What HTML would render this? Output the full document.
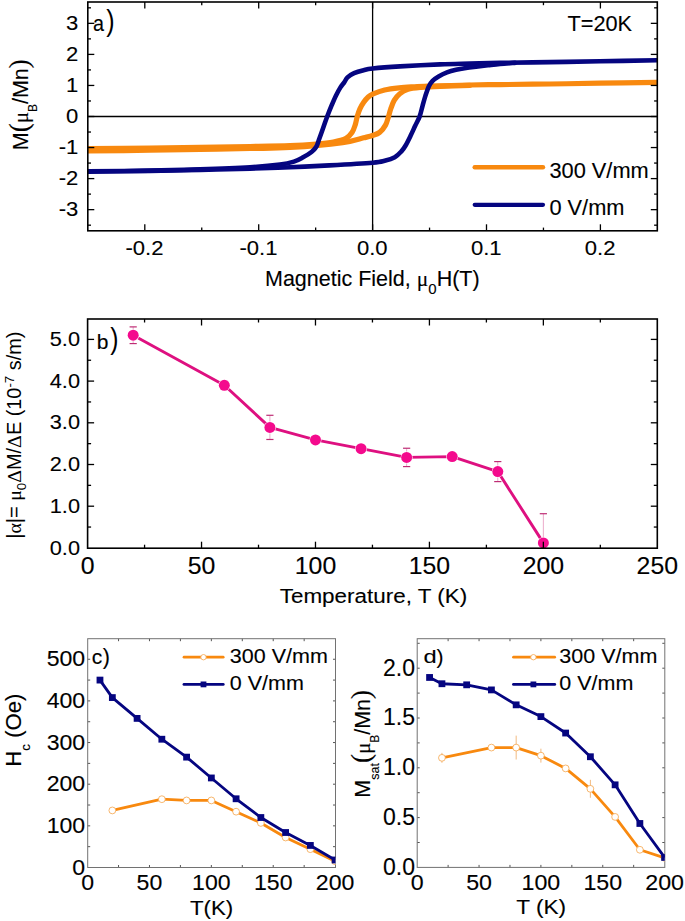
<!DOCTYPE html>
<html><head><meta charset="utf-8"><style>
html,body{margin:0;padding:0;background:#fff;}
svg{display:block;}
text{font-family:"Liberation Sans", sans-serif; stroke:#000; stroke-width:0.12px;}
</style></head><body>
<svg width="685" height="921" viewBox="0 0 685 921">
<defs><clipPath id="clipA"><rect x="87.8" y="2.0" width="569.5" height="228.8"/></clipPath>
<clipPath id="clipC"><rect x="87.7" y="638.7" width="247.8" height="228.8"/></clipPath>
<clipPath id="clipD"><rect x="417.2" y="638.7" width="247.6" height="228.7"/></clipPath></defs>
<rect width="685" height="921" fill="#fff"/>
<line x1="87.80" y1="116.50" x2="657.30" y2="116.50" stroke="#000" stroke-width="1.30" />
<line x1="372.60" y1="2.00" x2="372.60" y2="230.80" stroke="#000" stroke-width="1.30" />
<g clip-path="url(#clipA)" fill="none" stroke-linejoin="round" stroke-linecap="round">
<path d="M657.00,82.40 C647.50,82.53 617.83,82.93 600.00,83.20 C582.17,83.47 566.67,83.77 550.00,84.00 C533.33,84.23 513.33,84.43 500.00,84.60 C486.67,84.77 481.93,84.73 470.00,85.00 C458.07,85.27 437.77,85.90 428.40,86.20 C419.03,86.50 418.67,86.53 413.80,86.80 C408.93,87.07 404.07,87.27 399.20,87.80 C394.33,88.33 389.03,88.93 384.60,90.00 C380.17,91.07 375.33,93.03 372.60,94.20 C369.87,95.37 369.68,95.65 368.20,97.00 C366.72,98.35 365.08,100.32 363.70,102.30 C362.32,104.28 360.97,106.57 359.90,108.90 C358.83,111.23 358.07,113.68 357.30,116.30 C356.53,118.92 356.18,121.90 355.30,124.60 C354.42,127.30 353.55,130.20 352.00,132.50 C350.45,134.80 349.10,136.82 346.00,138.40 C342.90,139.98 338.35,141.07 333.40,142.00 C328.45,142.93 323.53,143.40 316.30,144.00 C309.07,144.60 301.05,145.18 290.00,145.60 C278.95,146.02 265.00,146.22 250.00,146.50 C235.00,146.78 216.67,147.05 200.00,147.30 C183.33,147.55 168.67,147.78 150.00,148.00 C131.33,148.22 98.33,148.50 88.00,148.60" stroke="#F8890F" stroke-width="5.2"/>
<path d="M88.00,151.00 C98.33,150.87 131.33,150.45 150.00,150.20 C168.67,149.95 183.33,149.78 200.00,149.50 C216.67,149.22 235.00,148.83 250.00,148.50 C265.00,148.17 274.57,148.48 290.00,147.50 C305.43,146.52 330.33,144.22 342.60,142.60 C354.87,140.98 358.60,138.98 363.60,137.80 C368.60,136.62 369.93,136.40 372.60,135.50 C375.27,134.60 377.45,134.13 379.60,132.40 C381.75,130.67 384.02,127.73 385.50,125.10 C386.98,122.47 387.63,119.28 388.50,116.60 C389.37,113.92 389.75,111.72 390.70,109.00 C391.65,106.28 392.68,102.85 394.20,100.30 C395.72,97.75 397.50,95.53 399.80,93.70 C402.10,91.87 404.45,90.35 408.00,89.30 C411.55,88.25 415.77,87.90 421.10,87.40 C426.43,86.90 431.85,86.63 440.00,86.30 C448.15,85.97 465.00,85.55 470.00,85.40" stroke="#F8890F" stroke-width="5.2"/>
<path d="M657.00,60.30 C647.50,60.47 617.83,61.00 600.00,61.30 C582.17,61.60 566.67,61.83 550.00,62.10 C533.33,62.37 513.33,62.65 500.00,62.90 C486.67,63.15 480.00,63.35 470.00,63.60 C460.00,63.85 451.67,63.93 440.00,64.40 C428.33,64.87 411.23,65.72 400.00,66.40 C388.77,67.08 378.67,67.87 372.60,68.50 C366.53,69.13 366.68,69.42 363.60,70.20 C360.52,70.98 356.78,72.00 354.10,73.20 C351.42,74.40 349.15,75.87 347.50,77.40 C345.85,78.93 345.40,80.70 344.20,82.40 C343.00,84.10 341.68,85.38 340.30,87.60 C338.92,89.82 337.40,92.60 335.90,95.70 C334.40,98.80 332.73,102.77 331.30,106.20 C329.87,109.63 328.62,112.78 327.30,116.30 C325.98,119.82 324.75,123.50 323.40,127.30 C322.05,131.10 320.38,135.85 319.20,139.10 C318.02,142.35 317.58,144.65 316.30,146.80 C315.02,148.95 313.70,150.25 311.50,152.00 C309.30,153.75 306.03,155.70 303.10,157.30 C300.17,158.90 297.75,160.38 293.90,161.60 C290.05,162.82 287.32,163.65 280.00,164.60 C272.68,165.55 263.33,166.50 250.00,167.30 C236.67,168.10 216.67,168.85 200.00,169.40 C183.33,169.95 168.67,170.28 150.00,170.60 C131.33,170.92 98.33,171.18 88.00,171.30" stroke="#050580" stroke-width="4.6"/>
<path d="M88.00,171.60 C98.33,171.48 131.33,171.18 150.00,170.90 C168.67,170.62 183.33,170.28 200.00,169.90 C216.67,169.52 235.00,169.03 250.00,168.60 C265.00,168.17 276.77,167.83 290.00,167.30 C303.23,166.77 315.63,166.17 329.40,165.40 C343.17,164.63 363.40,163.47 372.60,162.70 C381.80,161.93 380.90,161.72 384.60,160.80 C388.30,159.88 392.00,158.77 394.80,157.20 C397.60,155.63 399.60,153.35 401.40,151.40 C403.20,149.45 404.03,148.18 405.60,145.50 C407.17,142.82 409.20,138.58 410.80,135.30 C412.40,132.02 413.73,128.92 415.20,125.80 C416.67,122.68 418.38,119.88 419.60,116.60 C420.82,113.32 421.53,109.55 422.50,106.10 C423.47,102.65 424.33,99.22 425.40,95.90 C426.47,92.58 427.70,88.72 428.90,86.20 C430.10,83.68 430.98,82.43 432.60,80.80 C434.22,79.17 436.20,77.80 438.60,76.40 C441.00,75.00 444.10,73.50 447.00,72.40 C449.90,71.30 452.83,70.53 456.00,69.80 C459.17,69.07 462.67,68.52 466.00,68.00 C469.33,67.48 472.33,67.15 476.00,66.70 C479.67,66.25 484.00,65.75 488.00,65.30 C492.00,64.85 495.50,64.40 500.00,64.00 C504.50,63.60 512.50,63.08 515.00,62.90" stroke="#050580" stroke-width="4.6"/>
</g>
<line x1="87.80" y1="225.18" x2="91.00" y2="225.18" stroke="#000" stroke-width="1.30" />
<line x1="657.30" y1="225.18" x2="654.10" y2="225.18" stroke="#000" stroke-width="1.30" />
<line x1="87.80" y1="209.65" x2="94.30" y2="209.65" stroke="#000" stroke-width="1.30" />
<line x1="657.30" y1="209.65" x2="650.80" y2="209.65" stroke="#000" stroke-width="1.30" />
<line x1="87.80" y1="194.12" x2="91.00" y2="194.12" stroke="#000" stroke-width="1.30" />
<line x1="657.30" y1="194.12" x2="654.10" y2="194.12" stroke="#000" stroke-width="1.30" />
<line x1="87.80" y1="178.60" x2="94.30" y2="178.60" stroke="#000" stroke-width="1.30" />
<line x1="657.30" y1="178.60" x2="650.80" y2="178.60" stroke="#000" stroke-width="1.30" />
<line x1="87.80" y1="163.07" x2="91.00" y2="163.07" stroke="#000" stroke-width="1.30" />
<line x1="657.30" y1="163.07" x2="654.10" y2="163.07" stroke="#000" stroke-width="1.30" />
<line x1="87.80" y1="147.55" x2="94.30" y2="147.55" stroke="#000" stroke-width="1.30" />
<line x1="657.30" y1="147.55" x2="650.80" y2="147.55" stroke="#000" stroke-width="1.30" />
<line x1="87.80" y1="132.03" x2="91.00" y2="132.03" stroke="#000" stroke-width="1.30" />
<line x1="657.30" y1="132.03" x2="654.10" y2="132.03" stroke="#000" stroke-width="1.30" />
<line x1="87.80" y1="116.50" x2="94.30" y2="116.50" stroke="#000" stroke-width="1.30" />
<line x1="657.30" y1="116.50" x2="650.80" y2="116.50" stroke="#000" stroke-width="1.30" />
<line x1="87.80" y1="100.97" x2="91.00" y2="100.97" stroke="#000" stroke-width="1.30" />
<line x1="657.30" y1="100.97" x2="654.10" y2="100.97" stroke="#000" stroke-width="1.30" />
<line x1="87.80" y1="85.45" x2="94.30" y2="85.45" stroke="#000" stroke-width="1.30" />
<line x1="657.30" y1="85.45" x2="650.80" y2="85.45" stroke="#000" stroke-width="1.30" />
<line x1="87.80" y1="69.92" x2="91.00" y2="69.92" stroke="#000" stroke-width="1.30" />
<line x1="657.30" y1="69.92" x2="654.10" y2="69.92" stroke="#000" stroke-width="1.30" />
<line x1="87.80" y1="54.40" x2="94.30" y2="54.40" stroke="#000" stroke-width="1.30" />
<line x1="657.30" y1="54.40" x2="650.80" y2="54.40" stroke="#000" stroke-width="1.30" />
<line x1="87.80" y1="38.88" x2="91.00" y2="38.88" stroke="#000" stroke-width="1.30" />
<line x1="657.30" y1="38.88" x2="654.10" y2="38.88" stroke="#000" stroke-width="1.30" />
<line x1="87.80" y1="23.35" x2="94.30" y2="23.35" stroke="#000" stroke-width="1.30" />
<line x1="657.30" y1="23.35" x2="650.80" y2="23.35" stroke="#000" stroke-width="1.30" />
<line x1="87.80" y1="7.83" x2="91.00" y2="7.83" stroke="#000" stroke-width="1.30" />
<line x1="657.30" y1="7.83" x2="654.10" y2="7.83" stroke="#000" stroke-width="1.30" />
<line x1="144.80" y1="2.00" x2="144.80" y2="8.50" stroke="#000" stroke-width="1.30" />
<line x1="144.80" y1="230.80" x2="144.80" y2="224.30" stroke="#000" stroke-width="1.30" />
<line x1="201.75" y1="2.00" x2="201.75" y2="5.20" stroke="#000" stroke-width="1.30" />
<line x1="201.75" y1="230.80" x2="201.75" y2="227.60" stroke="#000" stroke-width="1.30" />
<line x1="258.70" y1="2.00" x2="258.70" y2="8.50" stroke="#000" stroke-width="1.30" />
<line x1="258.70" y1="230.80" x2="258.70" y2="224.30" stroke="#000" stroke-width="1.30" />
<line x1="315.65" y1="2.00" x2="315.65" y2="5.20" stroke="#000" stroke-width="1.30" />
<line x1="315.65" y1="230.80" x2="315.65" y2="227.60" stroke="#000" stroke-width="1.30" />
<line x1="372.60" y1="2.00" x2="372.60" y2="8.50" stroke="#000" stroke-width="1.30" />
<line x1="372.60" y1="230.80" x2="372.60" y2="224.30" stroke="#000" stroke-width="1.30" />
<line x1="429.55" y1="2.00" x2="429.55" y2="5.20" stroke="#000" stroke-width="1.30" />
<line x1="429.55" y1="230.80" x2="429.55" y2="227.60" stroke="#000" stroke-width="1.30" />
<line x1="486.50" y1="2.00" x2="486.50" y2="8.50" stroke="#000" stroke-width="1.30" />
<line x1="486.50" y1="230.80" x2="486.50" y2="224.30" stroke="#000" stroke-width="1.30" />
<line x1="543.45" y1="2.00" x2="543.45" y2="5.20" stroke="#000" stroke-width="1.30" />
<line x1="543.45" y1="230.80" x2="543.45" y2="227.60" stroke="#000" stroke-width="1.30" />
<line x1="600.40" y1="2.00" x2="600.40" y2="8.50" stroke="#000" stroke-width="1.30" />
<line x1="600.40" y1="230.80" x2="600.40" y2="224.30" stroke="#000" stroke-width="1.30" />
<rect x="87.80" y="2.00" width="569.50" height="228.80" fill="none" stroke="#000" stroke-width="1.60"/>
<line x1="474.70" y1="167.30" x2="543.00" y2="167.30" stroke="#F8890F" stroke-width="4.40" stroke-linecap="round"/>
<line x1="474.70" y1="204.80" x2="543.00" y2="204.80" stroke="#050580" stroke-width="4.20" stroke-linecap="round"/>
<polyline points="133.18,335.23 224.33,385.27 269.90,427.39 315.48,439.90 361.06,448.65 406.63,457.41 452.21,456.58 497.78,471.59 543.36,542.90" fill="none" stroke="#DE1080" stroke-width="2.9" stroke-linejoin="round"/>
<line x1="133.18" y1="326.89" x2="133.18" y2="343.57" stroke="#E9A0C4" stroke-width="0.90" />
<line x1="129.58" y1="326.89" x2="136.78" y2="326.89" stroke="#BE2C74" stroke-width="1.20" />
<line x1="129.58" y1="343.57" x2="136.78" y2="343.57" stroke="#BE2C74" stroke-width="1.20" />
<line x1="224.33" y1="381.10" x2="224.33" y2="389.44" stroke="#E9A0C4" stroke-width="0.90" />
<line x1="220.73" y1="381.10" x2="227.93" y2="381.10" stroke="#BE2C74" stroke-width="1.20" />
<line x1="220.73" y1="389.44" x2="227.93" y2="389.44" stroke="#BE2C74" stroke-width="1.20" />
<line x1="269.90" y1="415.29" x2="269.90" y2="439.48" stroke="#E9A0C4" stroke-width="0.90" />
<line x1="266.30" y1="415.29" x2="273.50" y2="415.29" stroke="#BE2C74" stroke-width="1.20" />
<line x1="266.30" y1="439.48" x2="273.50" y2="439.48" stroke="#BE2C74" stroke-width="1.20" />
<line x1="315.48" y1="436.56" x2="315.48" y2="443.23" stroke="#E9A0C4" stroke-width="0.90" />
<line x1="311.88" y1="436.56" x2="319.08" y2="436.56" stroke="#BE2C74" stroke-width="1.20" />
<line x1="311.88" y1="443.23" x2="319.08" y2="443.23" stroke="#BE2C74" stroke-width="1.20" />
<line x1="406.63" y1="448.24" x2="406.63" y2="466.58" stroke="#E9A0C4" stroke-width="0.90" />
<line x1="403.03" y1="448.24" x2="410.23" y2="448.24" stroke="#BE2C74" stroke-width="1.20" />
<line x1="403.03" y1="466.58" x2="410.23" y2="466.58" stroke="#BE2C74" stroke-width="1.20" />
<line x1="497.78" y1="461.58" x2="497.78" y2="481.60" stroke="#E9A0C4" stroke-width="0.90" />
<line x1="494.18" y1="461.58" x2="501.38" y2="461.58" stroke="#BE2C74" stroke-width="1.20" />
<line x1="494.18" y1="481.60" x2="501.38" y2="481.60" stroke="#BE2C74" stroke-width="1.20" />
<line x1="543.36" y1="513.71" x2="543.36" y2="547.90" stroke="#E9A0C4" stroke-width="0.90" />
<line x1="539.76" y1="513.71" x2="546.96" y2="513.71" stroke="#BE2C74" stroke-width="1.20" />
<circle cx="133.18" cy="335.23" r="6.0" fill="#fff"/>
<circle cx="133.18" cy="335.23" r="5.5" fill="#F40A8D"/>
<circle cx="224.33" cy="385.27" r="6.0" fill="#fff"/>
<circle cx="224.33" cy="385.27" r="5.5" fill="#F40A8D"/>
<circle cx="269.90" cy="427.39" r="6.0" fill="#fff"/>
<circle cx="269.90" cy="427.39" r="5.5" fill="#F40A8D"/>
<circle cx="315.48" cy="439.90" r="6.0" fill="#fff"/>
<circle cx="315.48" cy="439.90" r="5.5" fill="#F40A8D"/>
<circle cx="361.06" cy="448.65" r="6.0" fill="#fff"/>
<circle cx="361.06" cy="448.65" r="5.5" fill="#F40A8D"/>
<circle cx="406.63" cy="457.41" r="6.0" fill="#fff"/>
<circle cx="406.63" cy="457.41" r="5.5" fill="#F40A8D"/>
<circle cx="452.21" cy="456.58" r="6.0" fill="#fff"/>
<circle cx="452.21" cy="456.58" r="5.5" fill="#F40A8D"/>
<circle cx="497.78" cy="471.59" r="6.0" fill="#fff"/>
<circle cx="497.78" cy="471.59" r="5.5" fill="#F40A8D"/>
<circle cx="543.36" cy="542.90" r="6.0" fill="#fff"/>
<circle cx="543.36" cy="542.90" r="5.5" fill="#F40A8D"/>
<line x1="87.60" y1="527.05" x2="91.10" y2="527.05" stroke="#000" stroke-width="1.30" />
<line x1="657.30" y1="527.05" x2="653.80" y2="527.05" stroke="#000" stroke-width="1.30" />
<line x1="87.60" y1="506.20" x2="94.10" y2="506.20" stroke="#000" stroke-width="1.30" />
<line x1="657.30" y1="506.20" x2="650.80" y2="506.20" stroke="#000" stroke-width="1.30" />
<line x1="87.60" y1="485.35" x2="91.10" y2="485.35" stroke="#000" stroke-width="1.30" />
<line x1="657.30" y1="485.35" x2="653.80" y2="485.35" stroke="#000" stroke-width="1.30" />
<line x1="87.60" y1="464.50" x2="94.10" y2="464.50" stroke="#000" stroke-width="1.30" />
<line x1="657.30" y1="464.50" x2="650.80" y2="464.50" stroke="#000" stroke-width="1.30" />
<line x1="87.60" y1="443.65" x2="91.10" y2="443.65" stroke="#000" stroke-width="1.30" />
<line x1="657.30" y1="443.65" x2="653.80" y2="443.65" stroke="#000" stroke-width="1.30" />
<line x1="87.60" y1="422.80" x2="94.10" y2="422.80" stroke="#000" stroke-width="1.30" />
<line x1="657.30" y1="422.80" x2="650.80" y2="422.80" stroke="#000" stroke-width="1.30" />
<line x1="87.60" y1="401.95" x2="91.10" y2="401.95" stroke="#000" stroke-width="1.30" />
<line x1="657.30" y1="401.95" x2="653.80" y2="401.95" stroke="#000" stroke-width="1.30" />
<line x1="87.60" y1="381.10" x2="94.10" y2="381.10" stroke="#000" stroke-width="1.30" />
<line x1="657.30" y1="381.10" x2="650.80" y2="381.10" stroke="#000" stroke-width="1.30" />
<line x1="87.60" y1="360.25" x2="91.10" y2="360.25" stroke="#000" stroke-width="1.30" />
<line x1="657.30" y1="360.25" x2="653.80" y2="360.25" stroke="#000" stroke-width="1.30" />
<line x1="87.60" y1="339.40" x2="94.10" y2="339.40" stroke="#000" stroke-width="1.30" />
<line x1="657.30" y1="339.40" x2="650.80" y2="339.40" stroke="#000" stroke-width="1.30" />
<line x1="144.57" y1="319.00" x2="144.57" y2="322.50" stroke="#000" stroke-width="1.30" />
<line x1="144.57" y1="548.20" x2="144.57" y2="544.70" stroke="#000" stroke-width="1.30" />
<line x1="201.54" y1="319.00" x2="201.54" y2="325.50" stroke="#000" stroke-width="1.30" />
<line x1="201.54" y1="548.20" x2="201.54" y2="541.70" stroke="#000" stroke-width="1.30" />
<line x1="258.51" y1="319.00" x2="258.51" y2="322.50" stroke="#000" stroke-width="1.30" />
<line x1="258.51" y1="548.20" x2="258.51" y2="544.70" stroke="#000" stroke-width="1.30" />
<line x1="315.48" y1="319.00" x2="315.48" y2="325.50" stroke="#000" stroke-width="1.30" />
<line x1="315.48" y1="548.20" x2="315.48" y2="541.70" stroke="#000" stroke-width="1.30" />
<line x1="372.45" y1="319.00" x2="372.45" y2="322.50" stroke="#000" stroke-width="1.30" />
<line x1="372.45" y1="548.20" x2="372.45" y2="544.70" stroke="#000" stroke-width="1.30" />
<line x1="429.42" y1="319.00" x2="429.42" y2="325.50" stroke="#000" stroke-width="1.30" />
<line x1="429.42" y1="548.20" x2="429.42" y2="541.70" stroke="#000" stroke-width="1.30" />
<line x1="486.39" y1="319.00" x2="486.39" y2="322.50" stroke="#000" stroke-width="1.30" />
<line x1="486.39" y1="548.20" x2="486.39" y2="544.70" stroke="#000" stroke-width="1.30" />
<line x1="543.36" y1="319.00" x2="543.36" y2="325.50" stroke="#000" stroke-width="1.30" />
<line x1="543.36" y1="548.20" x2="543.36" y2="541.70" stroke="#000" stroke-width="1.30" />
<line x1="600.33" y1="319.00" x2="600.33" y2="322.50" stroke="#000" stroke-width="1.30" />
<line x1="600.33" y1="548.20" x2="600.33" y2="544.70" stroke="#000" stroke-width="1.30" />
<rect x="87.60" y="319.00" width="569.70" height="229.20" fill="none" stroke="#000" stroke-width="1.60"/>
<line x1="87.70" y1="846.67" x2="90.20" y2="846.67" stroke="#555" stroke-width="1.00" />
<line x1="335.50" y1="846.67" x2="333.00" y2="846.67" stroke="#555" stroke-width="1.00" />
<line x1="87.70" y1="825.85" x2="90.20" y2="825.85" stroke="#555" stroke-width="1.00" />
<line x1="335.50" y1="825.85" x2="333.00" y2="825.85" stroke="#555" stroke-width="1.00" />
<line x1="87.70" y1="805.02" x2="90.20" y2="805.02" stroke="#555" stroke-width="1.00" />
<line x1="335.50" y1="805.02" x2="333.00" y2="805.02" stroke="#555" stroke-width="1.00" />
<line x1="87.70" y1="784.20" x2="90.20" y2="784.20" stroke="#555" stroke-width="1.00" />
<line x1="335.50" y1="784.20" x2="333.00" y2="784.20" stroke="#555" stroke-width="1.00" />
<line x1="87.70" y1="763.38" x2="90.20" y2="763.38" stroke="#555" stroke-width="1.00" />
<line x1="335.50" y1="763.38" x2="333.00" y2="763.38" stroke="#555" stroke-width="1.00" />
<line x1="87.70" y1="742.55" x2="90.20" y2="742.55" stroke="#555" stroke-width="1.00" />
<line x1="335.50" y1="742.55" x2="333.00" y2="742.55" stroke="#555" stroke-width="1.00" />
<line x1="87.70" y1="721.73" x2="90.20" y2="721.73" stroke="#555" stroke-width="1.00" />
<line x1="335.50" y1="721.73" x2="333.00" y2="721.73" stroke="#555" stroke-width="1.00" />
<line x1="87.70" y1="700.90" x2="90.20" y2="700.90" stroke="#555" stroke-width="1.00" />
<line x1="335.50" y1="700.90" x2="333.00" y2="700.90" stroke="#555" stroke-width="1.00" />
<line x1="87.70" y1="680.08" x2="90.20" y2="680.08" stroke="#555" stroke-width="1.00" />
<line x1="335.50" y1="680.08" x2="333.00" y2="680.08" stroke="#555" stroke-width="1.00" />
<line x1="87.70" y1="659.25" x2="90.20" y2="659.25" stroke="#555" stroke-width="1.00" />
<line x1="335.50" y1="659.25" x2="333.00" y2="659.25" stroke="#555" stroke-width="1.00" />
<line x1="118.54" y1="638.70" x2="118.54" y2="641.20" stroke="#555" stroke-width="1.00" />
<line x1="118.54" y1="867.50" x2="118.54" y2="865.00" stroke="#555" stroke-width="1.00" />
<line x1="149.47" y1="638.70" x2="149.47" y2="641.20" stroke="#555" stroke-width="1.00" />
<line x1="149.47" y1="867.50" x2="149.47" y2="865.00" stroke="#555" stroke-width="1.00" />
<line x1="180.41" y1="638.70" x2="180.41" y2="641.20" stroke="#555" stroke-width="1.00" />
<line x1="180.41" y1="867.50" x2="180.41" y2="865.00" stroke="#555" stroke-width="1.00" />
<line x1="211.35" y1="638.70" x2="211.35" y2="641.20" stroke="#555" stroke-width="1.00" />
<line x1="211.35" y1="867.50" x2="211.35" y2="865.00" stroke="#555" stroke-width="1.00" />
<line x1="242.29" y1="638.70" x2="242.29" y2="641.20" stroke="#555" stroke-width="1.00" />
<line x1="242.29" y1="867.50" x2="242.29" y2="865.00" stroke="#555" stroke-width="1.00" />
<line x1="273.23" y1="638.70" x2="273.23" y2="641.20" stroke="#555" stroke-width="1.00" />
<line x1="273.23" y1="867.50" x2="273.23" y2="865.00" stroke="#555" stroke-width="1.00" />
<line x1="304.16" y1="638.70" x2="304.16" y2="641.20" stroke="#555" stroke-width="1.00" />
<line x1="304.16" y1="867.50" x2="304.16" y2="865.00" stroke="#555" stroke-width="1.00" />
<rect x="87.70" y="638.70" width="247.80" height="228.80" fill="none" stroke="#727272" stroke-width="1.00"/>
<g clip-path="url(#clipC)">
<polyline points="112.35,810.44 161.85,799.19 186.60,800.44 211.35,800.44 236.10,811.69 260.85,822.93 285.60,837.51 310.35,849.17 335.10,861.25" fill="none" stroke="#F8890F" stroke-width="2.80" stroke-linejoin="round"/>
<circle cx="112.35" cy="810.44" r="3.4" fill="#fff" stroke="#F5A54A" stroke-width="0.8"/>
<circle cx="161.85" cy="799.19" r="3.4" fill="#fff" stroke="#F5A54A" stroke-width="0.8"/>
<circle cx="186.60" cy="800.44" r="3.4" fill="#fff" stroke="#F5A54A" stroke-width="0.8"/>
<circle cx="211.35" cy="800.44" r="3.4" fill="#fff" stroke="#F5A54A" stroke-width="0.8"/>
<circle cx="236.10" cy="811.69" r="3.4" fill="#fff" stroke="#F5A54A" stroke-width="0.8"/>
<circle cx="260.85" cy="822.93" r="3.4" fill="#fff" stroke="#F5A54A" stroke-width="0.8"/>
<circle cx="285.60" cy="837.51" r="3.4" fill="#fff" stroke="#F5A54A" stroke-width="0.8"/>
<circle cx="310.35" cy="849.17" r="3.4" fill="#fff" stroke="#F5A54A" stroke-width="0.8"/>
<circle cx="335.10" cy="861.25" r="3.4" fill="#fff" stroke="#F5A54A" stroke-width="0.8"/>
<polyline points="99.97,680.08 112.35,697.57 137.10,718.39 161.85,739.22 186.60,757.13 211.35,777.95 236.10,798.78 260.85,817.52 285.60,832.51 310.35,845.43 335.10,860.00" fill="none" stroke="#050580" stroke-width="2.80" stroke-linejoin="round"/>
<rect x="96.57" y="676.68" width="6.8" height="6.8" fill="#050580"/>
<rect x="108.95" y="694.17" width="6.8" height="6.8" fill="#050580"/>
<rect x="133.70" y="714.99" width="6.8" height="6.8" fill="#050580"/>
<rect x="158.45" y="735.82" width="6.8" height="6.8" fill="#050580"/>
<rect x="183.20" y="753.73" width="6.8" height="6.8" fill="#050580"/>
<rect x="207.95" y="774.55" width="6.8" height="6.8" fill="#050580"/>
<rect x="232.70" y="795.38" width="6.8" height="6.8" fill="#050580"/>
<rect x="257.45" y="814.12" width="6.8" height="6.8" fill="#050580"/>
<rect x="282.20" y="829.11" width="6.8" height="6.8" fill="#050580"/>
<rect x="306.95" y="842.03" width="6.8" height="6.8" fill="#050580"/>
<rect x="331.70" y="856.60" width="6.8" height="6.8" fill="#050580"/>
</g>
<line x1="184.00" y1="657.20" x2="223.20" y2="657.20" stroke="#F8890F" stroke-width="2.70" stroke-linecap="round"/>
<circle cx="203.50" cy="657.20" r="2.7" fill="#fff" stroke="#F5A54A" stroke-width="0.8"/>
<line x1="184.00" y1="684.40" x2="223.20" y2="684.40" stroke="#050580" stroke-width="2.90" stroke-linecap="round"/>
<rect x="200.60" y="681.50" width="5.8" height="5.8" fill="#050580"/>
<line x1="417.20" y1="842.50" x2="419.70" y2="842.50" stroke="#555" stroke-width="1.00" />
<line x1="664.80" y1="842.50" x2="662.30" y2="842.50" stroke="#555" stroke-width="1.00" />
<line x1="417.20" y1="817.60" x2="419.70" y2="817.60" stroke="#555" stroke-width="1.00" />
<line x1="664.80" y1="817.60" x2="662.30" y2="817.60" stroke="#555" stroke-width="1.00" />
<line x1="417.20" y1="792.70" x2="419.70" y2="792.70" stroke="#555" stroke-width="1.00" />
<line x1="664.80" y1="792.70" x2="662.30" y2="792.70" stroke="#555" stroke-width="1.00" />
<line x1="417.20" y1="767.80" x2="419.70" y2="767.80" stroke="#555" stroke-width="1.00" />
<line x1="664.80" y1="767.80" x2="662.30" y2="767.80" stroke="#555" stroke-width="1.00" />
<line x1="417.20" y1="742.90" x2="419.70" y2="742.90" stroke="#555" stroke-width="1.00" />
<line x1="664.80" y1="742.90" x2="662.30" y2="742.90" stroke="#555" stroke-width="1.00" />
<line x1="417.20" y1="718.00" x2="419.70" y2="718.00" stroke="#555" stroke-width="1.00" />
<line x1="664.80" y1="718.00" x2="662.30" y2="718.00" stroke="#555" stroke-width="1.00" />
<line x1="417.20" y1="693.10" x2="419.70" y2="693.10" stroke="#555" stroke-width="1.00" />
<line x1="664.80" y1="693.10" x2="662.30" y2="693.10" stroke="#555" stroke-width="1.00" />
<line x1="417.20" y1="668.20" x2="419.70" y2="668.20" stroke="#555" stroke-width="1.00" />
<line x1="664.80" y1="668.20" x2="662.30" y2="668.20" stroke="#555" stroke-width="1.00" />
<line x1="417.20" y1="643.30" x2="419.70" y2="643.30" stroke="#555" stroke-width="1.00" />
<line x1="664.80" y1="643.30" x2="662.30" y2="643.30" stroke="#555" stroke-width="1.00" />
<line x1="448.12" y1="638.70" x2="448.12" y2="641.20" stroke="#555" stroke-width="1.00" />
<line x1="448.12" y1="867.40" x2="448.12" y2="864.90" stroke="#555" stroke-width="1.00" />
<line x1="479.05" y1="638.70" x2="479.05" y2="641.20" stroke="#555" stroke-width="1.00" />
<line x1="479.05" y1="867.40" x2="479.05" y2="864.90" stroke="#555" stroke-width="1.00" />
<line x1="509.98" y1="638.70" x2="509.98" y2="641.20" stroke="#555" stroke-width="1.00" />
<line x1="509.98" y1="867.40" x2="509.98" y2="864.90" stroke="#555" stroke-width="1.00" />
<line x1="540.90" y1="638.70" x2="540.90" y2="641.20" stroke="#555" stroke-width="1.00" />
<line x1="540.90" y1="867.40" x2="540.90" y2="864.90" stroke="#555" stroke-width="1.00" />
<line x1="571.83" y1="638.70" x2="571.83" y2="641.20" stroke="#555" stroke-width="1.00" />
<line x1="571.83" y1="867.40" x2="571.83" y2="864.90" stroke="#555" stroke-width="1.00" />
<line x1="602.75" y1="638.70" x2="602.75" y2="641.20" stroke="#555" stroke-width="1.00" />
<line x1="602.75" y1="867.40" x2="602.75" y2="864.90" stroke="#555" stroke-width="1.00" />
<line x1="633.67" y1="638.70" x2="633.67" y2="641.20" stroke="#555" stroke-width="1.00" />
<line x1="633.67" y1="867.40" x2="633.67" y2="864.90" stroke="#555" stroke-width="1.00" />
<rect x="417.20" y="638.70" width="247.60" height="228.70" fill="none" stroke="#727272" stroke-width="1.00"/>
<g clip-path="url(#clipD)">
<line x1="441.94" y1="752.86" x2="441.94" y2="762.82" stroke="#EFA860" stroke-width="0.80" />
<line x1="516.16" y1="735.63" x2="516.16" y2="759.53" stroke="#EFA860" stroke-width="0.80" />
<line x1="540.90" y1="748.68" x2="540.90" y2="762.62" stroke="#EFA860" stroke-width="0.80" />
<line x1="590.38" y1="779.85" x2="590.38" y2="797.78" stroke="#EFA860" stroke-width="0.80" />
<polyline points="441.94,757.84 491.42,747.58 516.16,747.58 540.90,755.65 565.64,768.40 590.38,788.82 615.12,816.90 639.86,849.77 664.60,857.84" fill="none" stroke="#F8890F" stroke-width="2.80" stroke-linejoin="round"/>
<circle cx="441.94" cy="757.84" r="3.4" fill="#fff" stroke="#F5A54A" stroke-width="0.8"/>
<circle cx="491.42" cy="747.58" r="3.4" fill="#fff" stroke="#F5A54A" stroke-width="0.8"/>
<circle cx="516.16" cy="747.58" r="3.4" fill="#fff" stroke="#F5A54A" stroke-width="0.8"/>
<circle cx="540.90" cy="755.65" r="3.4" fill="#fff" stroke="#F5A54A" stroke-width="0.8"/>
<circle cx="565.64" cy="768.40" r="3.4" fill="#fff" stroke="#F5A54A" stroke-width="0.8"/>
<circle cx="590.38" cy="788.82" r="3.4" fill="#fff" stroke="#F5A54A" stroke-width="0.8"/>
<circle cx="615.12" cy="816.90" r="3.4" fill="#fff" stroke="#F5A54A" stroke-width="0.8"/>
<circle cx="639.86" cy="849.77" r="3.4" fill="#fff" stroke="#F5A54A" stroke-width="0.8"/>
<circle cx="664.60" cy="857.84" r="3.4" fill="#fff" stroke="#F5A54A" stroke-width="0.8"/>
<polyline points="429.57,677.46 441.94,683.74 466.68,684.83 491.42,689.91 516.16,704.85 540.90,716.61 565.64,733.04 590.38,756.74 615.12,784.83 639.86,823.48 664.60,857.44" fill="none" stroke="#050580" stroke-width="2.80" stroke-linejoin="round"/>
<rect x="426.17" y="674.06" width="6.8" height="6.8" fill="#050580"/>
<rect x="438.54" y="680.34" width="6.8" height="6.8" fill="#050580"/>
<rect x="463.28" y="681.43" width="6.8" height="6.8" fill="#050580"/>
<rect x="488.02" y="686.51" width="6.8" height="6.8" fill="#050580"/>
<rect x="512.76" y="701.45" width="6.8" height="6.8" fill="#050580"/>
<rect x="537.50" y="713.21" width="6.8" height="6.8" fill="#050580"/>
<rect x="562.24" y="729.64" width="6.8" height="6.8" fill="#050580"/>
<rect x="586.98" y="753.34" width="6.8" height="6.8" fill="#050580"/>
<rect x="611.72" y="781.43" width="6.8" height="6.8" fill="#050580"/>
<rect x="636.46" y="820.08" width="6.8" height="6.8" fill="#050580"/>
<rect x="661.20" y="854.04" width="6.8" height="6.8" fill="#050580"/>
</g>
<line x1="513.50" y1="657.20" x2="554.70" y2="657.20" stroke="#F8890F" stroke-width="2.70" stroke-linecap="round"/>
<circle cx="533.40" cy="657.20" r="2.7" fill="#fff" stroke="#F5A54A" stroke-width="0.8"/>
<line x1="513.50" y1="684.40" x2="554.70" y2="684.40" stroke="#050580" stroke-width="2.90" stroke-linecap="round"/>
<rect x="530.50" y="681.50" width="5.8" height="5.8" fill="#050580"/>
<text transform="translate(78.30,29.75) scale(1.0500,1)" font-size="21.00" text-anchor="end" fill="#000" >3</text>
<text transform="translate(78.30,60.80) scale(1.0500,1)" font-size="21.00" text-anchor="end" fill="#000" >2</text>
<text transform="translate(78.30,91.85) scale(1.0500,1)" font-size="21.00" text-anchor="end" fill="#000" >1</text>
<text transform="translate(78.30,122.90) scale(1.0500,1)" font-size="21.00" text-anchor="end" fill="#000" >0</text>
<text transform="translate(78.30,153.95) scale(1.0500,1)" font-size="21.00" text-anchor="end" fill="#000" >-1</text>
<text transform="translate(78.30,185.00) scale(1.0500,1)" font-size="21.00" text-anchor="end" fill="#000" >-2</text>
<text transform="translate(78.30,216.05) scale(1.0500,1)" font-size="21.00" text-anchor="end" fill="#000" >-3</text>
<text transform="translate(144.50,254.80) scale(1.0500,1)" font-size="21.00" text-anchor="middle" fill="#000" >-0.2</text>
<text transform="translate(258.40,254.80) scale(1.0500,1)" font-size="21.00" text-anchor="middle" fill="#000" >-0.1</text>
<text transform="translate(372.30,254.80) scale(1.0500,1)" font-size="21.00" text-anchor="middle" fill="#000" >0.0</text>
<text transform="translate(486.20,254.80) scale(1.0500,1)" font-size="21.00" text-anchor="middle" fill="#000" >0.1</text>
<text transform="translate(600.10,254.80) scale(1.0500,1)" font-size="21.00" text-anchor="middle" fill="#000" >0.2</text>
<text transform="translate(372.30,285.90)" font-size="21.50" text-anchor="middle" fill="#000" >Magnetic Field, <tspan font-family="Liberation Serif">&#956;</tspan><tspan font-size="15" dy="8">0</tspan><tspan dy="-8">H(T)</tspan></text>
<text transform="translate(27.70,104.75) rotate(-90)" font-size="21.50" text-anchor="middle" fill="#000" >M<tspan font-family="Liberation Serif" font-size="27">(</tspan><tspan font-family="Liberation Serif" font-size="21">&#956;</tspan><tspan font-size="12" dy="9">B</tspan><tspan dy="-9">/Mn</tspan><tspan font-family="Liberation Serif" font-size="27">)</tspan></text>
<text transform="translate(93.00,31.30) scale(0.9200,1)" font-size="21.50" text-anchor="start" fill="#000" >a</text>
<text transform="translate(106.30,31.20) scale(0.8500,1)" font-size="29.50" text-anchor="start" fill="#000" style="stroke-width:0">)</text>
<text transform="translate(567.50,31.40) scale(1.0100,1)" font-size="21.50" text-anchor="start" fill="#000" >T=20K</text>
<text transform="translate(549.40,177.50) scale(1.0140,1)" font-size="21.50" text-anchor="start" fill="#000" >300 V/mm</text>
<text transform="translate(549.40,214.80) scale(1.0140,1)" font-size="21.50" text-anchor="start" fill="#000" >0 V/mm</text>
<text transform="translate(80.00,554.50) scale(1.0360,1)" font-size="21.00" text-anchor="end" fill="#000" >0.0</text>
<text transform="translate(80.00,512.80) scale(1.0360,1)" font-size="21.00" text-anchor="end" fill="#000" >1.0</text>
<text transform="translate(80.00,471.10) scale(1.0360,1)" font-size="21.00" text-anchor="end" fill="#000" >2.0</text>
<text transform="translate(80.00,429.40) scale(1.0360,1)" font-size="21.00" text-anchor="end" fill="#000" >3.0</text>
<text transform="translate(80.00,387.70) scale(1.0360,1)" font-size="21.00" text-anchor="end" fill="#000" >4.0</text>
<text transform="translate(80.00,346.00) scale(1.0360,1)" font-size="21.00" text-anchor="end" fill="#000" >5.0</text>
<text transform="translate(87.60,574.00) scale(1.0800,1)" font-size="23.00" text-anchor="middle" fill="#000" >0</text>
<text transform="translate(201.54,574.00) scale(1.0800,1)" font-size="23.00" text-anchor="middle" fill="#000" >50</text>
<text transform="translate(315.48,574.00) scale(1.0800,1)" font-size="23.00" text-anchor="middle" fill="#000" >100</text>
<text transform="translate(429.42,574.00) scale(1.0800,1)" font-size="23.00" text-anchor="middle" fill="#000" >150</text>
<text transform="translate(543.36,574.00) scale(1.0800,1)" font-size="23.00" text-anchor="middle" fill="#000" >200</text>
<text transform="translate(657.30,574.00) scale(1.0800,1)" font-size="23.00" text-anchor="middle" fill="#000" >250</text>
<text transform="translate(373.50,602.60) scale(1.0700,1)" font-size="21.00" text-anchor="middle" fill="#000" >Temperature, T (K)</text>
<text transform="translate(96.80,348.90)" font-size="21.00" text-anchor="start" fill="#000" >b</text>
<text transform="translate(110.20,349.00) scale(0.8500,1)" font-size="29.00" text-anchor="start" fill="#000" style="stroke-width:0">)</text>
<text transform="translate(21.20,435.20) rotate(-90) scale(1.0200,1)" font-size="19.50" text-anchor="middle" fill="#000" style="stroke-width:0">|<tspan font-family="Liberation Serif">&#945;</tspan>|= <tspan font-family="Liberation Serif">&#956;</tspan><tspan font-size="13" dy="4.5">0</tspan><tspan dy="-4.5" font-family="Liberation Serif">&#916;</tspan>M/<tspan font-family="Liberation Serif">&#916;</tspan>E (10<tspan font-size="13" dy="-7.5">-7</tspan><tspan dy="7.5"> s/m)</tspan></text>
<text transform="translate(85.20,874.70) scale(1.0500,1)" font-size="22.00" text-anchor="end" fill="#000" >0</text>
<text transform="translate(85.20,833.05) scale(1.0500,1)" font-size="22.00" text-anchor="end" fill="#000" >100</text>
<text transform="translate(85.20,791.40) scale(1.0500,1)" font-size="22.00" text-anchor="end" fill="#000" >200</text>
<text transform="translate(85.20,749.75) scale(1.0500,1)" font-size="22.00" text-anchor="end" fill="#000" >300</text>
<text transform="translate(85.20,708.10) scale(1.0500,1)" font-size="22.00" text-anchor="end" fill="#000" >400</text>
<text transform="translate(85.20,666.45) scale(1.0500,1)" font-size="22.00" text-anchor="end" fill="#000" >500</text>
<text transform="translate(87.60,890.30) scale(1.0500,1)" font-size="22.00" text-anchor="middle" fill="#000" >0</text>
<text transform="translate(149.47,890.30) scale(1.0500,1)" font-size="22.00" text-anchor="middle" fill="#000" >50</text>
<text transform="translate(211.35,890.30) scale(1.0500,1)" font-size="22.00" text-anchor="middle" fill="#000" >100</text>
<text transform="translate(273.23,890.30) scale(1.0500,1)" font-size="22.00" text-anchor="middle" fill="#000" >150</text>
<text transform="translate(335.10,890.30) scale(1.0500,1)" font-size="22.00" text-anchor="middle" fill="#000" >200</text>
<text transform="translate(211.60,914.90) scale(1.0600,1)" font-size="21.00" text-anchor="middle" fill="#000" >T(K)</text>
<text transform="translate(20.50,730.15) rotate(-90) scale(1.0300,1)" font-size="21.50" text-anchor="middle" fill="#000" >H<tspan font-size="13" dy="9">c</tspan><tspan dy="-9"> (Oe)</tspan></text>
<text transform="translate(91.80,663.60)" font-size="21.00" text-anchor="start" fill="#000" >c</text>
<text transform="translate(102.80,663.80)" font-size="21.50" text-anchor="start" fill="#000" >)</text>
<text transform="translate(229.80,662.70) scale(1.0500,1)" font-size="20.50" text-anchor="start" fill="#000" >300 V/mm</text>
<text transform="translate(229.80,690.00) scale(1.0500,1)" font-size="20.50" text-anchor="start" fill="#000" >0 V/mm</text>
<text transform="translate(415.00,874.70)" font-size="23.00" text-anchor="end" fill="#000" >0.0</text>
<text transform="translate(415.00,824.90)" font-size="23.00" text-anchor="end" fill="#000" >0.5</text>
<text transform="translate(415.00,775.10)" font-size="23.00" text-anchor="end" fill="#000" >1.0</text>
<text transform="translate(415.00,725.30)" font-size="23.00" text-anchor="end" fill="#000" >1.5</text>
<text transform="translate(415.00,675.50)" font-size="23.00" text-anchor="end" fill="#000" >2.0</text>
<text transform="translate(417.20,890.00) scale(1.0800,1)" font-size="21.50" text-anchor="middle" fill="#000" >0</text>
<text transform="translate(479.05,890.00) scale(1.0800,1)" font-size="21.50" text-anchor="middle" fill="#000" >50</text>
<text transform="translate(540.90,890.00) scale(1.0800,1)" font-size="21.50" text-anchor="middle" fill="#000" >100</text>
<text transform="translate(602.75,890.00) scale(1.0800,1)" font-size="21.50" text-anchor="middle" fill="#000" >150</text>
<text transform="translate(664.60,890.00) scale(1.0800,1)" font-size="21.50" text-anchor="middle" fill="#000" >200</text>
<text transform="translate(541.10,913.60) scale(1.0770,1)" font-size="21.00" text-anchor="middle" fill="#000" >T (K)</text>
<text transform="translate(370.10,743.85) rotate(-90)" font-size="21.50" text-anchor="middle" fill="#000" >M<tspan font-size="12.5" dy="8.7">sat</tspan><tspan font-family="Liberation Serif" font-size="27" dy="-8.7">(</tspan><tspan font-family="Liberation Serif" font-size="21">&#956;</tspan><tspan font-size="12" dy="8.8">B</tspan><tspan dy="-8.8">/Mn</tspan><tspan font-family="Liberation Serif" font-size="27">)</tspan></text>
<text transform="translate(423.50,662.80) scale(1.2800,1)" font-size="18.50" text-anchor="start" fill="#000" style="stroke-width:0.1px">d</text>
<text transform="translate(436.50,663.80)" font-size="21.00" text-anchor="start" fill="#000" >)</text>
<text transform="translate(559.30,662.70) scale(1.0500,1)" font-size="20.50" text-anchor="start" fill="#000" >300 V/mm</text>
<text transform="translate(559.30,690.00) scale(1.0500,1)" font-size="20.50" text-anchor="start" fill="#000" >0 V/mm</text>
</svg>
</body></html>
